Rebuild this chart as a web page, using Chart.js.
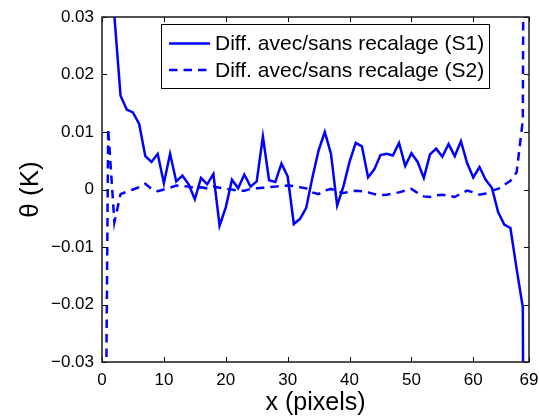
<!DOCTYPE html>
<html>
<head>
<meta charset="utf-8">
<script src="https://cdn.jsdelivr.net/npm/chart.js@4.4.1/dist/chart.umd.min.js"></script>
<style>
  html, body { margin: 0; padding: 0; background: #fff; }
  #wrap { width: 539px; height: 419px; }
</style>
</head>
<body>
<div id="wrap"><canvas id="c" width="539" height="419"></canvas></div>
<script>
// Pixel index along the profile
const xPixels = [
  0, 1, 2, 3, 4, 5, 6, 7, 8, 9,
  10, 11, 12, 13, 14, 15, 16, 17, 18, 19,
  20, 21, 22, 23, 24, 25, 26, 27, 28, 29,
  30, 31, 32, 33, 34, 35, 36, 37, 38, 39,
  40, 41, 42, 43, 44, 45, 46, 47, 48, 49,
  50, 51, 52, 53, 54, 55, 56, 57, 58, 59,
  60, 61, 62, 63, 64, 65, 66, 67, 68, 69
];

// Temperature difference with/without registration, series S1 (K)
const diffS1 = [
  0.2, 0.12, 0.0302, 0.0163, 0.0139, 0.0134, 0.0114, 0.0058, 0.0048, 0.0062,
  0.0011, 0.0062, 0.0014, 0.0024, 0.0009, -0.0017, 0.0020, 0.0009, 0.0027, -0.0063,
  -0.0031, 0.0017, 0.0002, 0.0026, 0.0005, 0.0014, 0.0092, 0.0016, 0.0013, 0.0045,
  0.0023, -0.0060, -0.0051, -0.0032, 0.0021, 0.0068, 0.0100, 0.0062, -0.0028, 0.0005,
  0.0048, 0.0081, 0.0075, 0.0021, 0.0035, 0.0060, 0.0062, 0.0059, 0.0081, 0.0041,
  0.0063, 0.0048, 0.0020, 0.0061, 0.0071, 0.0057, 0.0079, 0.0058, 0.0084, 0.0046,
  0.0021, 0.0039, 0.0017, 0.0003, -0.0039, -0.0061, -0.0067, -0.0138, -0.0205, -0.3
];

// Temperature difference with/without registration, series S2 (K)
const diffS2 = [
  -0.13, 0.0106, -0.0057, -0.0008, -0.0004, 0.0000, 0.0004, 0.0010, 0.0001, -0.0003,
  0.0000, 0.0003, 0.0007, 0.0006, 0.0005, 0.0003, 0.0004, 0.0002, 0.0005, 0.0003,
  0.0001, 0.0000, -0.0002, -0.0002, 0.0001, 0.0002, 0.0003, 0.0004, 0.0005, 0.0006,
  0.0007, 0.0006, 0.0004, 0.0002, -0.0005, -0.0008, -0.0002, 0.0001, -0.0003, -0.0006,
  -0.0004, -0.0002, -0.0003, -0.0005, -0.0008, -0.0010, -0.0009, -0.0007, -0.0005, -0.0002,
  0.0001, -0.0006, -0.0012, -0.0013, -0.0010, -0.0009, -0.0011, -0.0013, -0.0007, -0.0002,
  -0.0005, -0.0009, -0.0007, -0.0002, 0.0001, 0.0008, 0.0015, 0.0030, 0.0120, 0.3
];

const seriesLabels = ['Diff. avec/sans recalage (S1)', 'Diff. avec/sans recalage (S2)'];
const xTickValues = [0, 10, 20, 30, 40, 50, 60, 69];
const yTickValues = [-0.03, -0.02, -0.01, 0, 0.01, 0.02, 0.03];

const BLUE = '#0000ff';
const FONT = '"Liberation Sans", Arial, Helvetica, sans-serif';

function pts(ys) { return xPixels.map((x, i) => ({ x: x, y: ys[i] })); }

function fmtY(v) {
  if (Math.abs(v) < 1e-12) return '0';
  return (v < 0 ? '\u2212' : '') + Math.abs(v).toFixed(2);
}

// Axes box with inward ticks on all four sides, plus a boxed legend inside the plot
const frame = {
  id: 'frame',
  afterDatasetsDraw(chart) {
    const { ctx, chartArea: a, scales } = chart;
    const tl = 5;
    ctx.save();
    ctx.strokeStyle = '#000';
    ctx.lineWidth = 1;
    ctx.beginPath();
    xTickValues.forEach(v => {
      const px = Math.round(scales.x.getPixelForValue(v)) + 0.5;
      ctx.moveTo(px, a.bottom); ctx.lineTo(px, a.bottom - tl);
      ctx.moveTo(px, a.top); ctx.lineTo(px, a.top + tl);
    });
    yTickValues.forEach(v => {
      const py = Math.round(scales.y.getPixelForValue(v)) + 0.5;
      ctx.moveTo(a.left, py); ctx.lineTo(a.left + tl, py);
      ctx.moveTo(a.right, py); ctx.lineTo(a.right - tl, py);
    });
    ctx.stroke();
    ctx.lineWidth = 1.5;
    ctx.strokeStyle = '#1a1a1a';
    ctx.strokeRect(a.left, a.top, a.right - a.left, a.bottom - a.top);

    // legend
    const lx = 161, ly = 24, lw = 328, lh = 64;
    ctx.fillStyle = '#fff';
    ctx.fillRect(lx, ly, lw, lh);
    ctx.lineWidth = 1;
    ctx.strokeStyle = '#000';
    ctx.strokeRect(lx + 0.5, ly + 0.5, lw, lh);
    const rows = [43.5, 70];
    chart.data.datasets.forEach((ds, i) => {
      ctx.beginPath();
      ctx.strokeStyle = ds.borderColor;
      ctx.lineWidth = ds.borderWidth;
      ctx.setLineDash(ds.borderDash || []);
      ctx.moveTo(169, rows[i]);
      ctx.lineTo(210, rows[i]);
      ctx.stroke();
      ctx.setLineDash([]);
      ctx.fillStyle = '#000';
      ctx.font = '21px ' + FONT;
      ctx.textBaseline = 'middle';
      ctx.textAlign = 'left';
      ctx.fillText(ds.label, 215, rows[i] + 1);
    });
    ctx.restore();
  }
};

new Chart(document.getElementById('c'), {
  type: 'line',
  data: {
    datasets: [
      { label: seriesLabels[0], data: pts(diffS1), borderColor: BLUE, borderWidth: 2.5,
        pointRadius: 0, tension: 0, fill: false },
      { label: seriesLabels[1], data: pts(diffS2), borderColor: BLUE, borderWidth: 2.5,
        borderDash: [8.5, 6], pointRadius: 0, tension: 0, fill: false }
    ]
  },
  options: {
    responsive: false,
    animation: false,
    layout: { padding: { top: 17, right: 10, left: 0, bottom: 0 } },
    plugins: { legend: { display: false }, tooltip: { enabled: false } },
    scales: {
      x: {
        type: 'linear', min: 0, max: 69,
        afterBuildTicks: s => { s.ticks = xTickValues.map(v => ({ value: v })); },
        afterFit: s => { s.height = 57; s.paddingLeft = 0; s.paddingRight = 0; },
        grid: { display: false, drawTicks: false },
        border: { display: false },
        ticks: { padding: 8, color: '#000', font: { family: FONT, size: 17 },
                 maxRotation: 0, autoSkip: false, callback: v => String(v) },
        title: { display: true, text: 'x (pixels)', color: '#000',
                 font: { family: FONT, size: 25 }, padding: { top: 0, bottom: 1 } }
      },
      y: {
        type: 'linear', min: -0.03, max: 0.03,
        afterBuildTicks: s => { s.ticks = yTickValues.map(v => ({ value: v })); },
        afterFit: s => { s.width = 102; s.paddingTop = 0; s.paddingBottom = 0; },
        grid: { display: false, drawTicks: false },
        border: { display: false },
        ticks: { padding: 8, color: '#000', font: { family: FONT, size: 17 },
                 autoSkip: false, callback: v => fmtY(v) },
        title: { display: true, text: '\u03b8 (K)', color: '#000',
                 font: { family: FONT, size: 26 }, padding: { top: 15, bottom: 0 } }
      }
    }
  },
  plugins: [frame]
});
</script>
</body>
</html>
